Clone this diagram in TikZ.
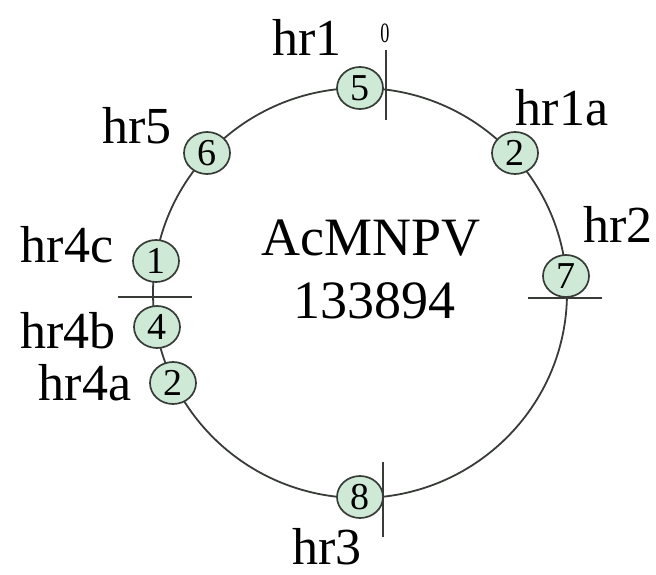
\documentclass[tikz,border=0pt]{standalone}
\usepackage{fontspec}
\setmainfont{Liberation Serif}
\usetikzlibrary{shapes.geometric}
\definecolor{hrfill}{RGB}{206,234,214}
\definecolor{hrline}{RGB}{55,60,55}
\begin{document}
\begin{tikzpicture}[x=1pt,y=-1pt,
  hrnode/.style={ellipse, draw=hrline, fill=hrfill, line width=1.7pt,
    minimum width=46pt, minimum height=42pt, inner sep=0pt,
    font=\fontsize{38}{38}\selectfont},
  lab/.style={font=\fontsize{52}{52}\selectfont, inner sep=0pt, anchor=base},
  big/.style={font=\fontsize{54}{54}\selectfont, inner sep=0pt, anchor=base},
  tickline/.style={draw=hrline, line width=1.6pt},
  ring/.style={draw=hrline, line width=1.8pt}]
\useasboundingbox (0,0) rectangle (656,574);
% genome ring
\draw[ring] (360,293) ellipse [x radius=207, y radius=205];
% tick marks
\coordinate (t0a) at (386,50);  \coordinate (t0b) at (386,120);
\coordinate (tla) at (118,297); \coordinate (tlb) at (192,297);
\coordinate (tra) at (528,298); \coordinate (trb) at (602,298);
\coordinate (tba) at (383,462); \coordinate (tbb) at (383,537);
\draw[tickline] (t0a) -- (t0b);
\draw[tickline] (tla) -- (tlb);
\draw[tickline] (tra) -- (trb);
\draw[tickline] (tba) -- (tbb);
% hr nodes
\node[hrnode] (n5)  at (360,88)  {5};
\node[hrnode] (n2a) at (515,153) {2};
\node[hrnode] (n7)  at (566,276) {7};
\node[hrnode] (n8)  at (360,497) {8};
\node[hrnode] (n2b) at (173,383) {2};
\node[hrnode] (n4)  at (157,327) {4};
\node[hrnode] (n1)  at (156,261) {1};
\node[hrnode] (n6)  at (207,153) {6};
% labels
\node[lab] (lhr1)  at (307,55)  {hr1};
\node[inner sep=0pt, anchor=base, xscale=0.65, font=\fontsize{28}{28}\selectfont] (lzero) at (385,42) {0};
\node[lab] (lhr1a) at (562,125) {hr1a};
\node[lab] (lhr2)  at (618,242) {hr2};
\node[lab] (lhr5)  at (137,143) {hr5};
\node[lab] (lhr4c) at (67,262)  {hr4c};
\node[lab] (lhr4b) at (68,348)  {hr4b};
\node[lab] (lhr4a) at (85,400)  {hr4a};
\node[lab] (lhr3)  at (327,564) {hr3};
\node[big] (name)  at (371,255) {AcMNPV};
\node[big] (size)  at (374,318) {133894};
\end{tikzpicture}
\end{document}
